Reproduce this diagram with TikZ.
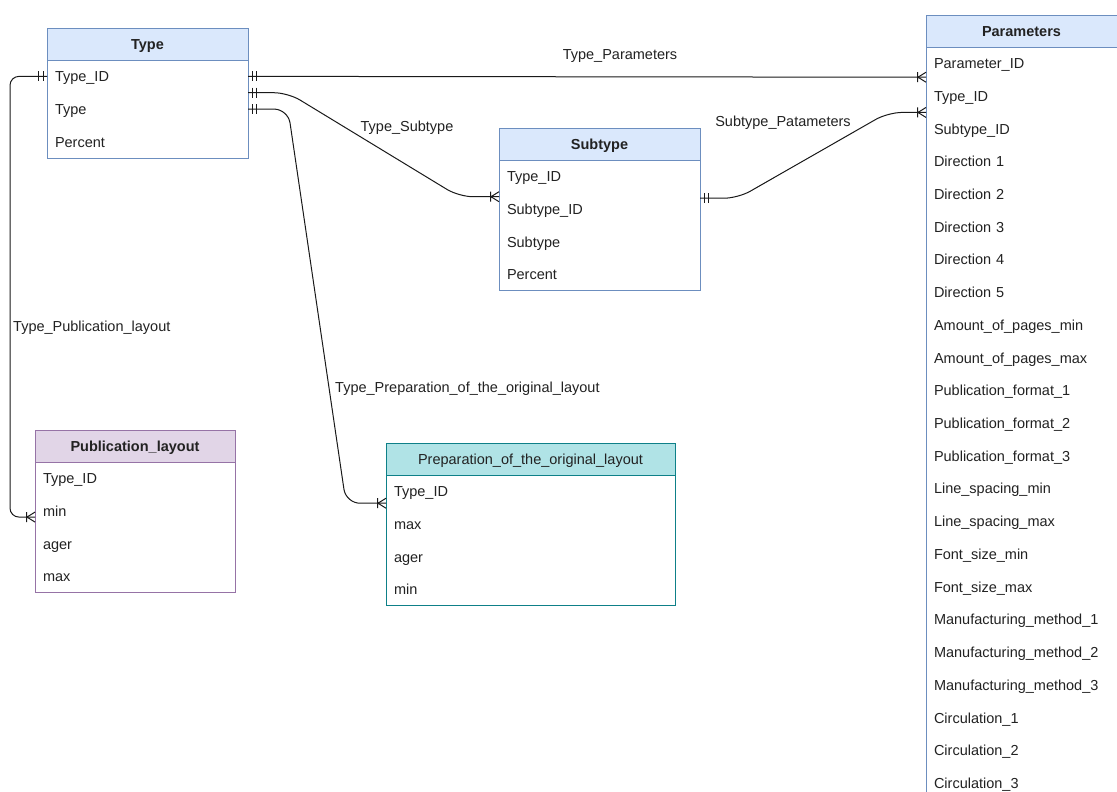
\documentclass[tikz,border=0pt]{standalone}
\usepackage{fontspec}
\setmainfont{Liberation Sans}
\usetikzlibrary{calc}
\definecolor{bluefill}{HTML}{DAE8FC}
\definecolor{bluestroke}{HTML}{6C8EBF}
\definecolor{purpfill}{HTML}{E1D5E7}
\definecolor{purpstroke}{HTML}{9673A6}
\definecolor{tealfill}{HTML}{B0E3E6}
\definecolor{tealstroke}{HTML}{0E8088}
\definecolor{txt}{HTML}{222222}
\definecolor{edge}{HTML}{1A1A1A}
\newcommand\ermandone[2]{%
  \draw[erline] ($(#1)+(#2*4,-5)$) -- ++(0,10) ($(#1)+(#2*8.5,-5)$) -- ++(0,10);}
\newcommand\ermanymark[2]{%
  \draw[erline] ($(#1)+(0,-5)$) -- ($(#1)+(#2*8,0)$) -- ($(#1)+(0,5)$)
                ($(#1)+(#2*8.5,-5)$) -- ++(0,10);}
\begin{document}
\begin{tikzpicture}[x=1pt,y=-1pt,
  font=\fontsize{14.5}{17}\selectfont, text=txt,
  hdr/.style={anchor=north west, minimum height=32pt, inner sep=0pt, outer sep=0pt,
    text height=13.5pt, text depth=2.5pt,
    font=\fontsize{14.5}{17}\selectfont\bfseries, line width=0.8pt},
  row/.style={anchor=north west, minimum height=32.72pt, text width=#1,
    inner xsep=8pt, inner ysep=0pt, outer sep=0pt, align=left,
    text height=13pt, text depth=2.5pt},
  body/.style={line width=0.8pt},
  erline/.style={draw=edge, line width=1pt},
  conn/.style={draw=edge, line width=1pt, rounded corners=14pt},
  lbl/.style={inner sep=1pt}
]
\useasboundingbox (0,0) rectangle (1117,792);
\clip (0,0) rectangle (1117,792);
\fill[white] (0,0) rectangle (1117,792);

% ---- Type
\node[hdr, fill=bluefill, draw=bluestroke, minimum width=201pt] (th) at (47,28) {Type};
\node[row=185pt] (t1) at (th.south west) {Type\_ID};
\node[row=185pt] (t2) at (t1.south west) {Type};
\node[row=185pt] (t3) at (t2.south west) {Percent};
\draw[body, draw=bluestroke] (th.south west) rectangle (t3.south east);

% ---- Subtype
\node[hdr, fill=bluefill, draw=bluestroke, minimum width=201pt] (sh) at (499,128) {Subtype};
\node[row=185pt] (s1) at (sh.south west) {Type\_ID};
\node[row=185pt] (s2) at (s1.south west) {Subtype\_ID};
\node[row=185pt] (s3) at (s2.south west) {Subtype};
\node[row=185pt] (s4) at (s3.south west) {Percent};
\draw[body, draw=bluestroke] (sh.south west) rectangle (s4.south east);

% ---- Publication_layout
\node[hdr, fill=purpfill, draw=purpstroke, minimum width=200pt] (qh) at (35,430) {Publication\_layout};
\node[row=184pt] (q1) at (qh.south west) {Type\_ID};
\node[row=184pt] (q2) at (q1.south west) {min};
\node[row=184pt] (q3) at (q2.south west) {ager};
\node[row=184pt] (q4) at (q3.south west) {max};
\draw[body, draw=purpstroke] (qh.south west) rectangle (q4.south east);

% ---- Preparation_of_the_original_layout
\node[hdr, fill=tealfill, draw=tealstroke, minimum width=289pt, font=\fontsize{14.5}{17}\selectfont] (rh) at (386,443) {Preparation\_of\_the\_original\_layout};
\node[row=273pt] (r1) at (rh.south west) {Type\_ID};
\node[row=273pt] (r2) at (r1.south west) {max};
\node[row=273pt] (r3) at (r2.south west) {ager};
\node[row=273pt] (r4) at (r3.south west) {min};
\draw[body, draw=tealstroke] (rh.south west) rectangle (r4.south east);

% ---- Parameters
\node[hdr, fill=bluefill, draw=bluestroke, minimum width=210pt] (ph) at (926,15) {\hspace*{-19pt}Parameters};
\coordinate (p0) at (ph.south west);
\foreach \t [count=\i, remember=\i as \j (initially 0)] in
  {Parameter\_ID, Type\_ID, Subtype\_ID, Direction 1, Direction 2, Direction 3,
   Direction 4, Direction 5, Amount\_of\_pages\_min, Amount\_of\_pages\_max,
   Publication\_format\_1, Publication\_format\_2, Publication\_format\_3,
   Line\_spacing\_min, Line\_spacing\_max, Font\_size\_min, Font\_size\_max,
   Manufacturing\_method\_1, Manufacturing\_method\_2, Manufacturing\_method\_3,
   Circulation\_1, Circulation\_2, Circulation\_3}
  {\node[row=194pt] (p\i) at (p\j.south west) {\t};}
\draw[body, draw=bluestroke] (ph.south west) rectangle (p23.south east);

% ---- connection points
\coordinate (aTP) at (t1.east);
\coordinate (bTP) at ([yshift=2.5pt]p1.south west);
\coordinate (aTS) at (t1.south east);
\coordinate (bTS) at ([yshift=-4pt]s1.south west);
\coordinate (aTR) at (t2.east);
\coordinate (bTR) at ([yshift=4.5pt]r1.south west);
\coordinate (aTQ) at (t1.west);
\coordinate (bTQ) at ([yshift=-6pt]q2.west);
\coordinate (aSP) at ([yshift=-5.5pt]s1.south east);
\coordinate (bSP) at (p2.south west);

% ---- connectors
\draw[conn] (aTP) -- (bTP);
\draw[conn] (aTS) -- ++(40,0) -- ($(bTS)+(-40,0)$) -- (bTS);
\draw[conn] (aTR) -- ++(40,0) -- ($(bTR)+(-40,0)$) -- (bTR);
\draw[conn, rounded corners=9pt] (aTQ) -- ++(-37,0) |- (bTQ);
\draw[conn] (aSP) -- ++(38,0) -- ($(bSP)+(-38,0)$) -- (bSP);

% ---- markers
\ermandone{aTP}{1}
\ermandone{aTS}{1}
\ermandone{aTR}{1}
\ermandone{aTQ}{-1}
\ermandone{aSP}{1}
\ermanymark{bTP}{-1}
\ermanymark{bTS}{-1}
\ermanymark{bTR}{-1}
\ermanymark{bTQ}{-1}
\ermanymark{bSP}{-1}

% ---- labels
\node[lbl] (lTP) at (620,56) {Type\_Parameters};
\node[lbl] (lTS) at (407,128) {Type\_Subtype};
\node[lbl] (lSP) at (783,123) {Subtype\_Patameters};
\node[lbl, anchor=west] (lTQ) at (12,328) {Type\_Publication\_layout};
\node[lbl, anchor=west] (lTR) at (334,389) {Type\_Preparation\_of\_the\_original\_layout};
\end{tikzpicture}
\end{document}
